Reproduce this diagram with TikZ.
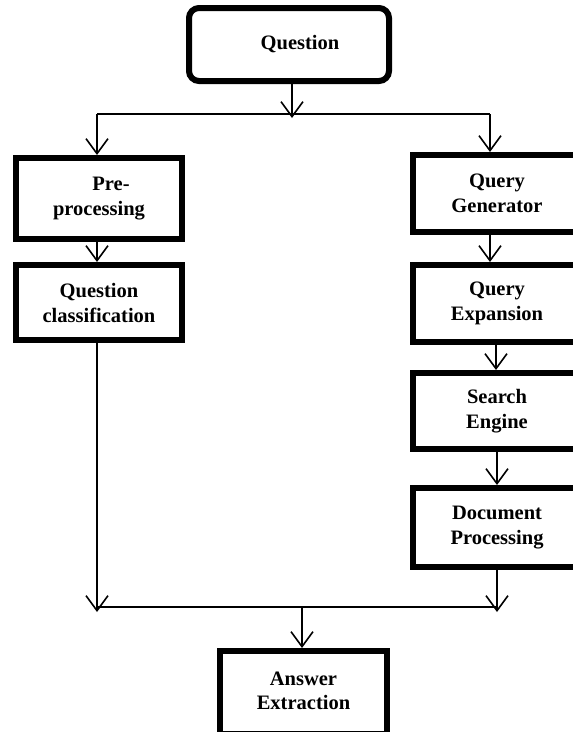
\documentclass[tikz,border=0pt]{standalone}
\usepackage{fontspec}
\setmainfont{Liberation Serif}
\usetikzlibrary{arrows.meta}
\begin{document}
\begin{tikzpicture}[x=1pt,y=-1pt,
  box/.style={draw,line width=6pt,rectangle,align=center,inner sep=0pt,
    font=\bfseries\fontsize{20.5}{25}\selectfont},
  conn/.style={line width=1.6pt,-{Straight Barb[length=15pt,width=22pt,line width=1.6pt]}},
  plain/.style={line width=1.5pt}]
\useasboundingbox (0,0) rectangle (573,732);
\node[box,rounded corners=10pt,minimum width=200pt,minimum height=73pt] (q) at (289,44.5) {\hspace*{22pt}Question};
\node[box,minimum width=166pt,minimum height=81pt] (pre) at (99,198.5) {\hspace*{24pt}Pre-\\processing};
\node[box,minimum width=166pt,minimum height=75pt] (qc) at (99,302.5) {Question\\classification};
\node[box,minimum width=168pt,minimum height=77pt] (qg) at (497,193.5) {Query\\Generator};
\node[box,minimum width=168pt,minimum height=77pt] (qe) at (497,303.5) {Query\\Expansion};
\node[box,minimum width=168pt,minimum height=76pt] (se) at (497,411) {Search\\Engine};
\node[box,minimum width=168pt,minimum height=79pt] (dp) at (497,527.5) {Document\\Processing};
\node[box,minimum width=167pt,minimum height=83pt] (ae) at (303.5,692.5) {\raisebox{-5pt}[0pt][0pt]{\begin{tabular}{@{}c@{}}Answer\\[-1pt]Extraction\end{tabular}}};
% top split
\coordinate (t0) at (292,114);
\coordinate (tl) at (97,114);
\coordinate (tr) at (490,114);
\draw[conn] (q.south -| t0) -- ([yshift=-4pt]t0);
\draw[plain] (tl) -- (tr);
\draw[conn] (tl) -- (tl |- pre.north);
\draw[conn] (tr) -- (tr |- qg.north);
% left column
\draw[conn] ([xshift=-2pt]pre.south) -- ([xshift=-2pt]qc.north);
% right column
\draw[conn] ([xshift=-7pt]qg.south) -- ([xshift=-7pt]qe.north);
\draw[conn] ([xshift=-1pt]qe.south) -- ([xshift=-1pt]se.north);
\draw[conn] (se.south) -- (dp.north);
% bottom merge
\coordinate (bl) at (97,607);
\coordinate (br) at (497,607);
\coordinate (b0) at (302,607);
\draw[conn] ([xshift=-2pt]qc.south) -- ([yshift=-5pt]bl);
\draw[conn] (dp.south) -- ([yshift=-5pt]br);
\draw[plain] (bl) -- (br);
\draw[conn] (b0) -- (b0 |- ae.north);
\end{tikzpicture}
\end{document}
